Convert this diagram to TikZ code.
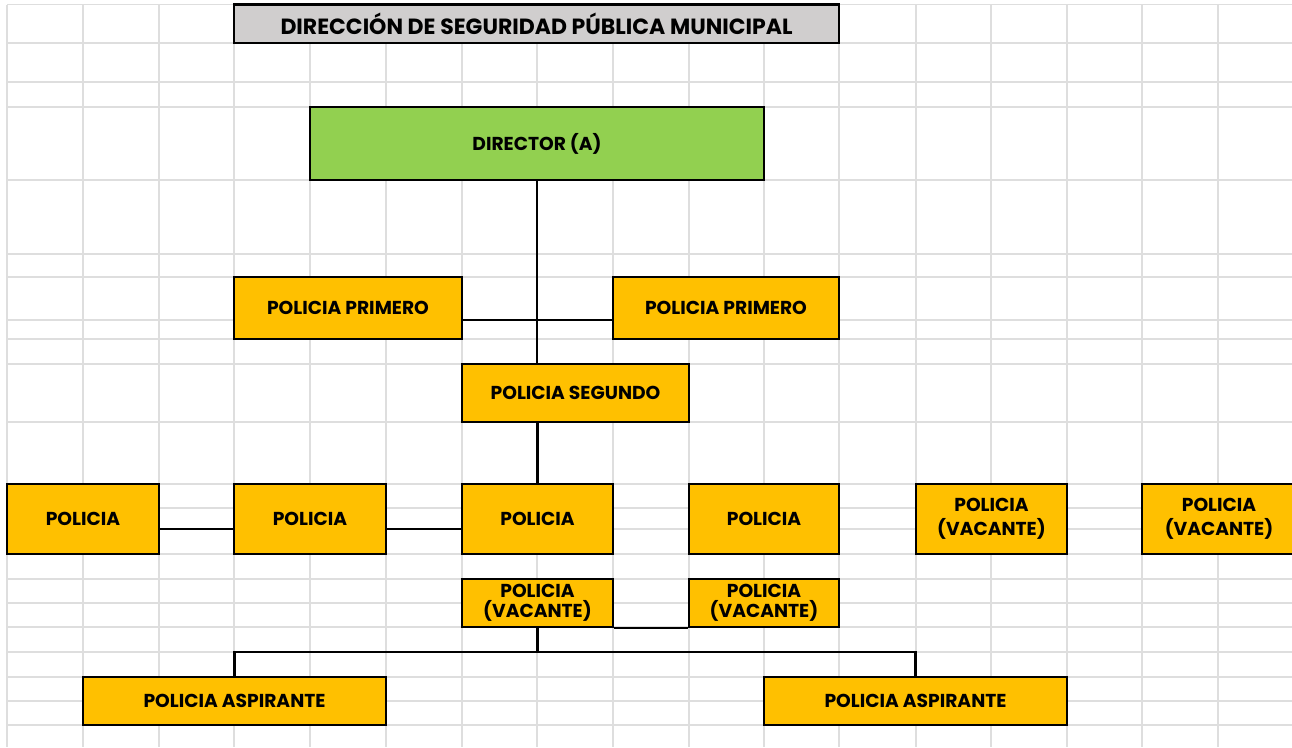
\documentclass[tikz,border=0pt]{standalone}
\usepackage{fontspec}
\setmainfont{Poppins}
\definecolor{gridgray}{RGB}{222,222,222}
\definecolor{boxyellow}{RGB}{255,192,0}
\definecolor{dirgreen}{RGB}{146,208,80}
\definecolor{titlegray}{RGB}{208,206,206}
\newcommand{\lblfont}{\bfseries\fontsize{18.7}{22}\selectfont}
\newcommand{\ttlfont}{\bfseries\fontsize{22}{26}\selectfont}
\begin{document}
\begin{tikzpicture}[x=1pt,y=-1pt,
  gridline/.style={draw=gridgray, line width=1.2pt},
  box/.style={draw=black, line width=2.2pt, fill=boxyellow, inner sep=0pt, font=\lblfont, align=center, text=black},
  vbox/.style={box, font=\bfseries\fontsize{18.7}{20.5}\selectfont},
  wbox/.style={box, font=\bfseries\fontsize{18.7}{24.5}\selectfont},
  dirbox/.style={box, fill=dirgreen},
  titlebox/.style={box, fill=titlegray, font=\ttlfont},
  conn/.style={draw=black, line width=2.4pt}]
\useasboundingbox (0,0) rectangle (1292,747);
\fill[white] (0,0) rectangle (1292,747);
% spreadsheet grid
\foreach \x in {7,83,159,234,310,386,462,537,613,689,764,839,916,991,1067,1142,1218}
  \draw[gridline] (\x,4.5) -- (\x,747);
\foreach \y in {4.5,43,82,107,180,254,277,320,339,364,422,484,508,529,554,579,603,627,652,677,701,725}
  \draw[gridline] (7,\y) -- (1292,\y);
% nodes
\node[titlebox, minimum width=605pt, minimum height=38.5pt] (title) at (536.5,23.75) {DIRECCIÓN DE SEGURIDAD PÚBLICA MUNICIPAL};
\node[dirbox, minimum width=454pt, minimum height=73pt] (dir) at (537,143.5) {DIRECTOR (A)};
\node[box, minimum width=228pt, minimum height=62pt] (ppl) at (348,308) {POLICIA PRIMERO};
\node[box, minimum width=226pt, minimum height=62pt] (ppr) at (726,308) {POLICIA PRIMERO};
\node[box, minimum width=227pt, minimum height=58pt] (ps) at (575.5,393) {POLICIA SEGUNDO};
\node[box, minimum width=152pt, minimum height=70pt] (p1) at (83,519) {POLICIA};
\node[box, minimum width=152pt, minimum height=70pt] (p2) at (310,519) {POLICIA};
\node[box, minimum width=151pt, minimum height=70pt] (p3) at (537.5,519) {POLICIA};
\node[box, minimum width=150pt, minimum height=70pt] (p4) at (764,519) {POLICIA};
\node[wbox, minimum width=151pt, minimum height=70pt] (p5) at (991.5,519) {POLICIA\\(VACANTE)};
\node[wbox, minimum width=154pt, minimum height=70pt] (p6) at (1219,519) {POLICIA\\(VACANTE)};
\node[vbox, minimum width=151pt, minimum height=48pt] (v1) at (537.5,603) {POLICIA\\(VACANTE)};
\node[vbox, minimum width=150pt, minimum height=48pt] (v2) at (764,603) {POLICIA\\(VACANTE)};
\node[box, minimum width=303pt, minimum height=48pt] (al) at (234.5,701) {POLICIA ASPIRANTE};
\node[box, minimum width=303pt, minimum height=48pt] (ar) at (915.5,701) {POLICIA ASPIRANTE};
% junction coordinates
\coordinate (j1) at (537,320);
\coordinate (j2) at (0,529);
\coordinate (j3) at (0,652);
% connectors
\draw[conn] (dir.south) -- (dir.south |- ps.north);
\draw[conn] (ppl.east |- j1) -- (ppr.west |- j1);
\draw[conn] (p3.north) -- (p3.north |- ps.south);
\draw[conn] (p1.east |- j2) -- (p2.west |- j2);
\draw[conn] (p2.east |- j2) -- (p3.west |- j2);
\draw[conn] (v1.south east) -- (v2.south west);
\draw[conn] (v1.south) -- (v1.south |- j3);
\draw[conn] (al.north) -- (al.north |- j3) -- (ar.north |- j3) -- (ar.north);
\end{tikzpicture}
\end{document}
